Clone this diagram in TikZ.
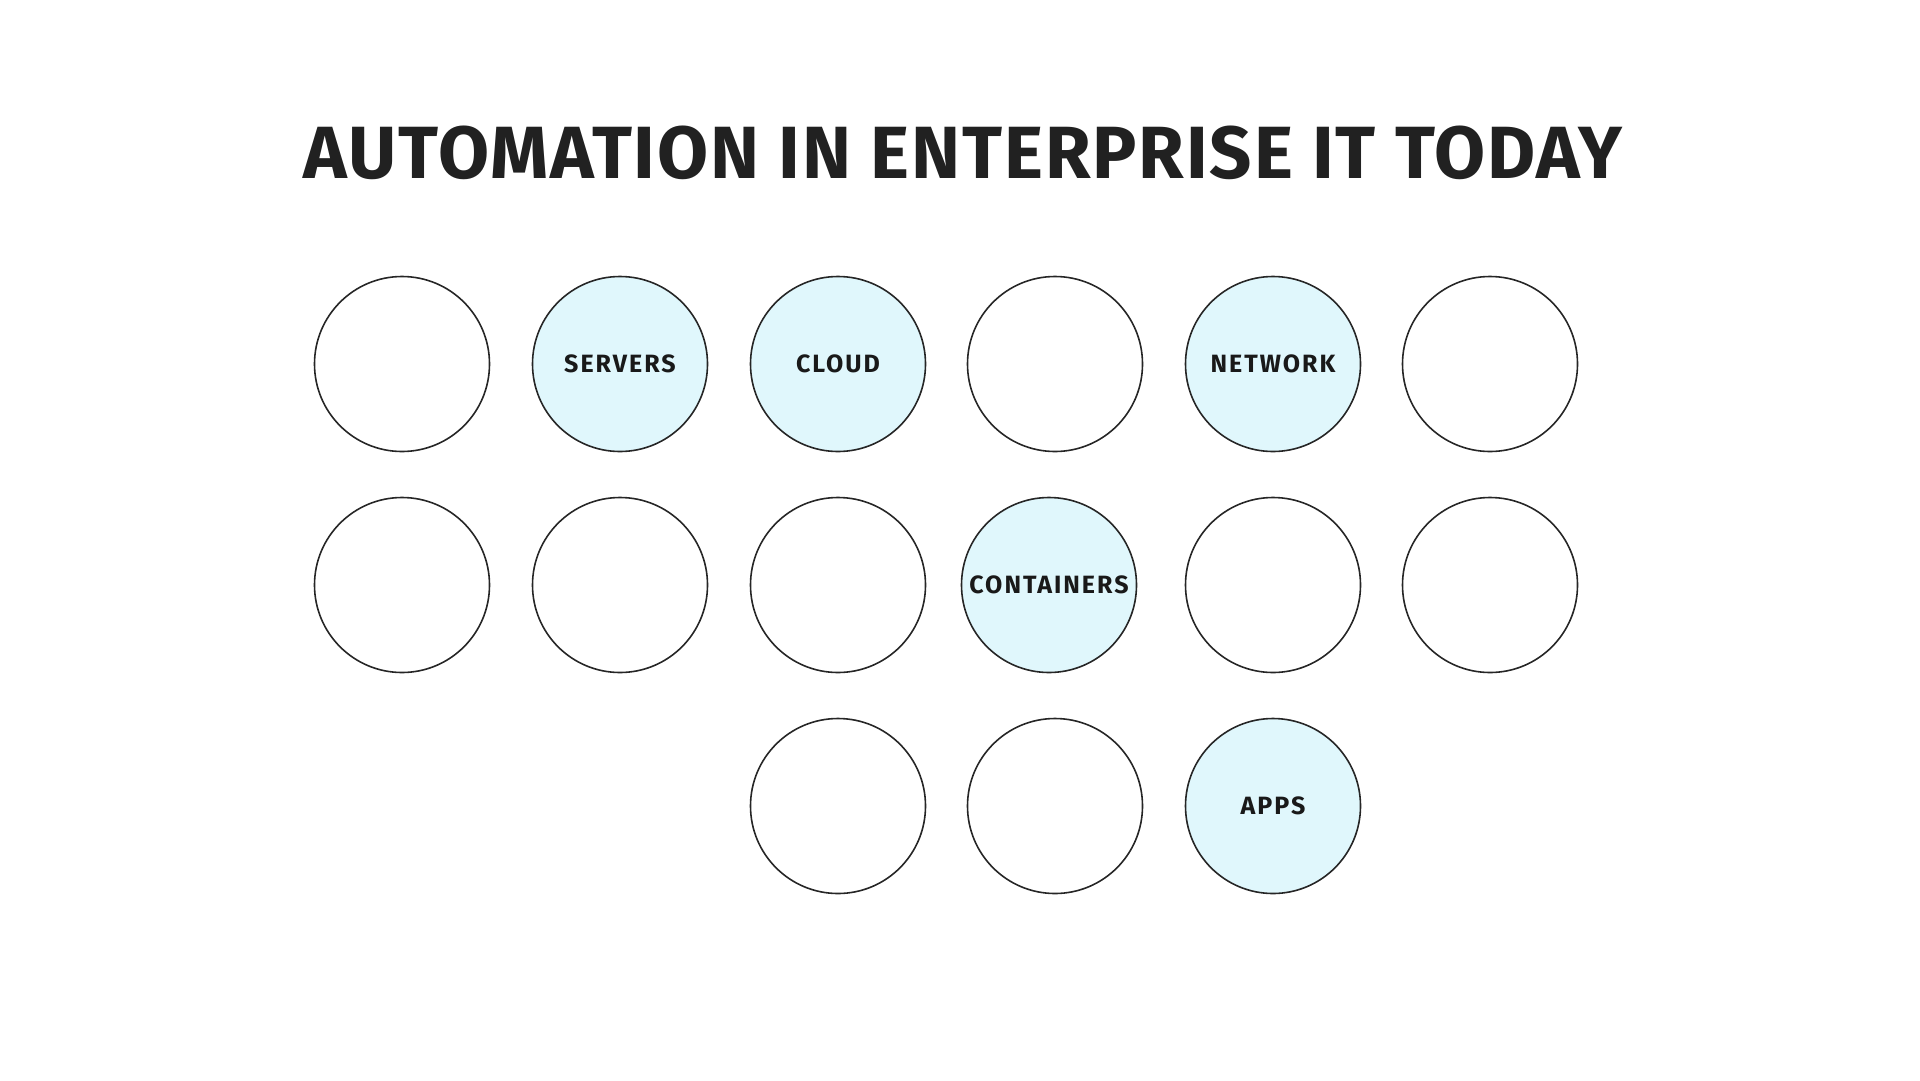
\documentclass[tikz,border=0pt]{standalone}
\usepackage{fontspec}
\setmainfont{Fira Sans}
\begin{document}
\begin{tikzpicture}[x=1pt, y=-1pt, font=\bfseries,
   blob/.style={draw=black!85, line width=1.6pt, circle, minimum size=175pt, inner sep=0pt},
   topic/.style={blob, fill=paleaqua, text=black!90, font=\fontsize{25}{28}\selectfont\addfontfeatures{LetterSpace=8}\bfseries}]
   \definecolor{paleaqua}{HTML}{E0F7FC}
   \useasboundingbox (0,0) rectangle (1920,1080);
   \node [anchor=base, text=black!87, font=\fontsize{74}{80}\selectfont\addfontfeatures{LetterSpace=2.5}\bfseries] (title) at (963,178) {AUTOMATION IN ENTERPRISE IT TODAY};
   % first row
   \node [blob]  (r1a) at (402,364) {};
   \node [topic] (servers) at (620,364) {SERVERS};
   \node [topic] (cloud) at (838,364) {CLOUD};
   \node [blob]  (r1d) at (1055,364) {};
   \node [topic] (network) at (1273,364) {NETWORK};
   \node [blob]  (r1f) at (1490,364) {};
   % second row
   \node [blob]  (r2a) at (402,585) {};
   \node [blob]  (r2b) at (620,585) {};
   \node [blob]  (r2c) at (838,585) {};
   \node [topic] (containers) at (1049,585) {CONTAINERS};
   \node [blob]  (r2e) at (1273,585) {};
   \node [blob]  (r2f) at (1490,585) {};
   % third row
   \node [blob]  (r3a) at (838,806) {};
   \node [blob]  (r3b) at (1055,806) {};
   \node [topic] (apps) at (1273,806) {APPS};
\end{tikzpicture}
\end{document}
